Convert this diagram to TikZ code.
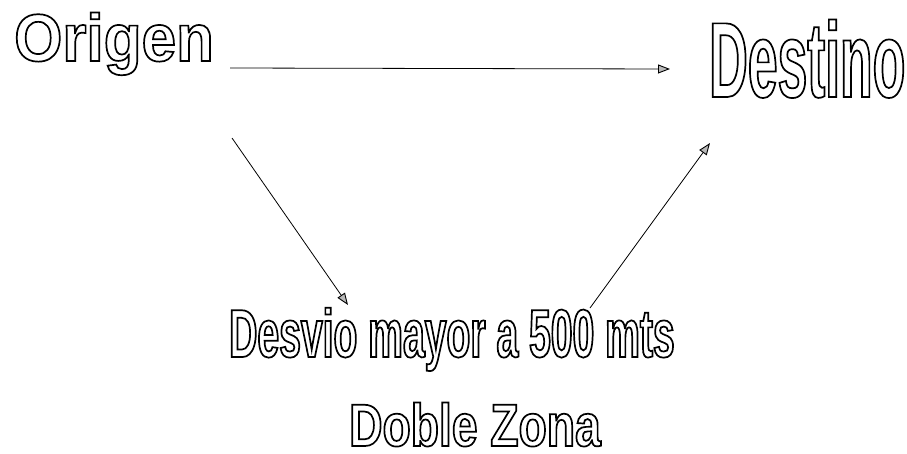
\documentclass[tikz,border=0pt]{standalone}
\usepackage{fontspec}
\usetikzlibrary{arrows.meta}
\setmainfont{Liberation Sans}
\newfontfamily\fOrig[FakeStretch=0.925]{Liberation Sans}
\newfontfamily\fDest[FakeStretch=0.50]{Liberation Sans}
\newfontfamily\fDesv[FakeStretch=0.575]{Liberation Sans}
\newfontfamily\fDoble[FakeStretch=0.77]{Liberation Sans}
\newcommand\hollow[1]{\special{pdf:literal 1 Tr 1.7 w}#1\special{pdf:literal 0 Tr 0.3985 w}}
\tikzset{
  lbl/.style={inner sep=0pt, anchor=base west},
  arr/.style={draw=black, line width=0.8pt,
    -{Triangle[length=12pt,width=9pt,fill=gray!55,line width=0.9pt]}}
}
\begin{document}
\begin{tikzpicture}[x=1pt,y=-1pt]
\useasboundingbox[fill=white] (0,0) rectangle (907,453);
\node[lbl] (Origen) at (14,61) {\fOrig\bfseries\fontsize{67}{70}\selectfont\hollow{Origen}};
\node[lbl] (Destino) at (709,97) {\fDest\bfseries\fontsize{107}{110}\selectfont\hollow{Destino}};
\node[lbl] (Desvio) at (229,357) {\fDesv\bfseries\fontsize{68}{70}\selectfont\hollow{Desvio mayor a 500 mts}};
\node[lbl] (Doble) at (349,446) {\fDoble\bfseries\fontsize{60}{62}\selectfont\hollow{Doble Zona}};
\coordinate (h1) at (230,68);
\coordinate (h2) at (670,69);
\coordinate (d1) at (232,138);
\coordinate (d2) at (348,305);
\coordinate (u1) at (590,308);
\coordinate (u2) at (710,143);
\draw[arr] (h1) -- (h2);
\draw[arr] (d1) -- (d2);
\draw[arr] (u1) -- (u2);
\end{tikzpicture}
\end{document}
